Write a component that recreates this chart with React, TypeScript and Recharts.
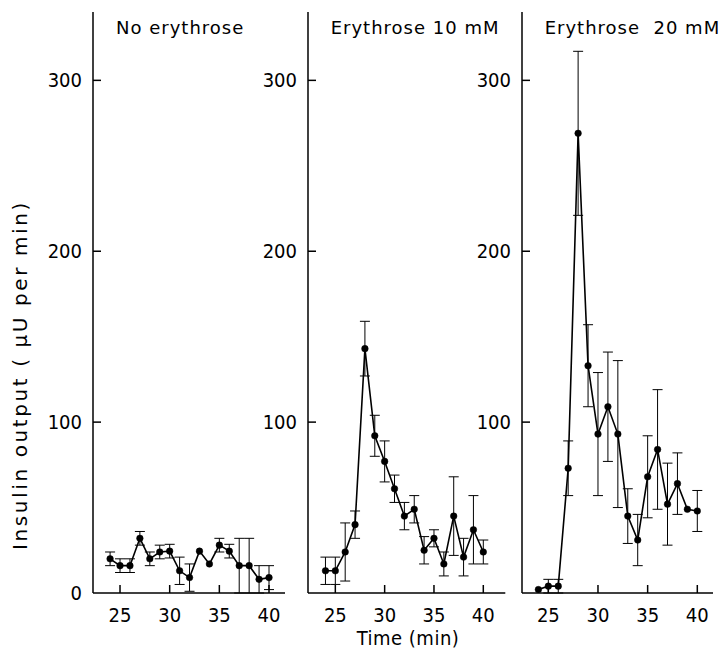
import React from "react";
import { ComposedChart, Line, XAxis, YAxis, ErrorBar } from "recharts";

// ---- data ----
const minutes = [24, 25, 26, 27, 28, 29, 30, 31, 32, 33, 34, 35, 36, 37, 38, 39, 40];

const noErythroseMean = [20, 16, 16, 32, 20, 24, 24.5, 13, 9, 24.5, 17, 28, 24.5, 16, 16, 8, 9];
const noErythroseErr = [4, 4, 4, 4, 4, 4, 4, 8, 8, 0, 0, 4, 4, 16, 16, 8, 7];

const ery10Mean = [13, 13, 24, 40, 143, 92, 77, 61, 45, 49, 25, 32, 17, 45, 21, 37, 24];
const ery10Err = [8, 8, 17, 8, 16, 12, 12, 8, 8, 8, 8, 5, 7, 23, 11, 20, 7];

const ery20Mean = [2, 4, 4, 73, 269, 133, 93, 109, 93, 45, 31, 68, 84, 52, 64, 49, 48];
const ery20Err = [0, 4, 4, 16, 48, 24, 36, 32, 43, 16, 15, 24, 35, 24, 18, 0, 12];

const panelTitles = ["No erythrose", "Erythrose 10 mM", "Erythrose  20 mM"];
const yTicks = [0, 100, 200, 300];
const xTicks = [25, 30, 35, 40];

const FONT = "'DejaVu Sans Condensed', 'DejaVu Sans', sans-serif";
const TITLE_FONT = "'DejaVu Sans', sans-serif";

const build = (mean: number[], err: number[]) =>
  minutes.map((t, i) => ({ t, v: mean[i], e: err[i] }));

const panels = [
  { data: build(noErythroseMean, noErythroseErr), ax: 93, ex: 285, domain: [22.28, 41.61], showZero: true },
  { data: build(ery10Mean, ery10Err), ax: 307.7, ex: 505, domain: [22.23, 42.23], showZero: false },
  { data: build(ery20Mean, ery20Err), ax: 521.7, ex: 712.7, domain: [22.35, 41.58], showZero: false },
];

const Y_AXIS_W = 60;
const TOP = 12;
const X_AXIS_H = 40;
const CHART_H = 652;
const BOTTOM = CHART_H - 593 - X_AXIS_H;

const makeYTick = (showZero: boolean) => (props: any) => {
  const { x, y, payload } = props;
  const v = payload.value;
  if (v === 0 && !showZero) return <g />;
  return (
    <g>
      {v !== 0 && <line x1={x} x2={x + 8} y1={y} y2={y} stroke="#000" strokeWidth={1.5} />}
      <text
        x={x - 11}
        y={y}
        textAnchor="end"
        dominantBaseline="central"
        fontFamily={FONT}
        fontSize={20}
        fill="#000"
      >
        {v}
      </text>
    </g>
  );
};

const XTick = (props: any) => {
  const { x, y, payload } = props;
  return (
    <g>
      <line x1={x} x2={x} y1={y} y2={y - 8} stroke="#000" strokeWidth={1.5} />
      <text
        x={x}
        y={y + 22}
        textAnchor="middle"
        dominantBaseline="central"
        fontFamily={FONT}
        fontSize={20}
        fill="#000"
      >
        {payload.value}
      </text>
    </g>
  );
};

const Panel = ({ p, title }: { p: any; title: string }) => {
  const plotW = p.ex - p.ax;
  const width = Y_AXIS_W + plotW + 4;
  return (
    <div style={{ position: "absolute", left: p.ax - Y_AXIS_W, top: 0, width, height: CHART_H }}>
      <ComposedChart
        width={width}
        height={CHART_H}
        data={p.data}
        margin={{ top: TOP, right: 4, bottom: BOTTOM, left: 0 }}
      >
        <XAxis
          dataKey="t"
          type="number"
          domain={p.domain}
          ticks={xTicks}
          allowDataOverflow
          axisLine={{ stroke: "#000", strokeWidth: 1.5 }}
          tickLine={false}
          tickSize={0}
          tickMargin={0}
          tick={<XTick />}
          height={X_AXIS_H}
          interval={0}
        />
        <YAxis
          type="number"
          domain={[0, 340]}
          ticks={yTicks}
          allowDataOverflow
          axisLine={{ stroke: "#000", strokeWidth: 1.5 }}
          tickLine={false}
          tickSize={0}
          tickMargin={0}
          tick={makeYTick(p.showZero)}
          width={Y_AXIS_W}
          interval={0}
        />
        <Line
          dataKey="v"
          stroke="#000"
          strokeWidth={1.6}
          dot={{ r: 3.3, fill: "#000", stroke: "#000", strokeWidth: 0.5 }}
          isAnimationActive={false}
        >
          <ErrorBar dataKey="e" width={5} stroke="#000" strokeWidth={1} direction="y" />
        </Line>
      </ComposedChart>
      <div
        style={{
          position: "absolute",
          left: Y_AXIS_W + 23,
          top: 17,
          fontFamily: TITLE_FONT,
          fontSize: 18,
          letterSpacing: 1,
          whiteSpace: "pre",
          lineHeight: "22px",
          color: "#000",
        }}
      >
        {title}
      </div>
    </div>
  );
};

export default function App() {
  return (
    <div style={{ position: "absolute", left: 0, top: 0, width: 725, height: 652, background: "#fff", overflow: "hidden" }}>
      {panels.map((p, i) => (
        <Panel key={i} p={p} title={panelTitles[i]} />
      ))}
      <div
        style={{
          position: "absolute",
          left: 20,
          top: 375,
          transform: "translate(-50%, -50%) rotate(-90deg)",
          whiteSpace: "pre",
          fontFamily: TITLE_FONT,
          fontSize: 20,
          letterSpacing: 2.6,
          color: "#000",
        }}
      >
        Insulin output ( μU per min)
      </div>
      <div
        style={{
          position: "absolute",
          left: 408,
          top: 638,
          transform: "translate(-50%, -50%)",
          whiteSpace: "nowrap",
          fontFamily: FONT,
          fontSize: 20,
          letterSpacing: 0.5,
          color: "#000",
        }}
      >
        Time (min)
      </div>
    </div>
  );
}
